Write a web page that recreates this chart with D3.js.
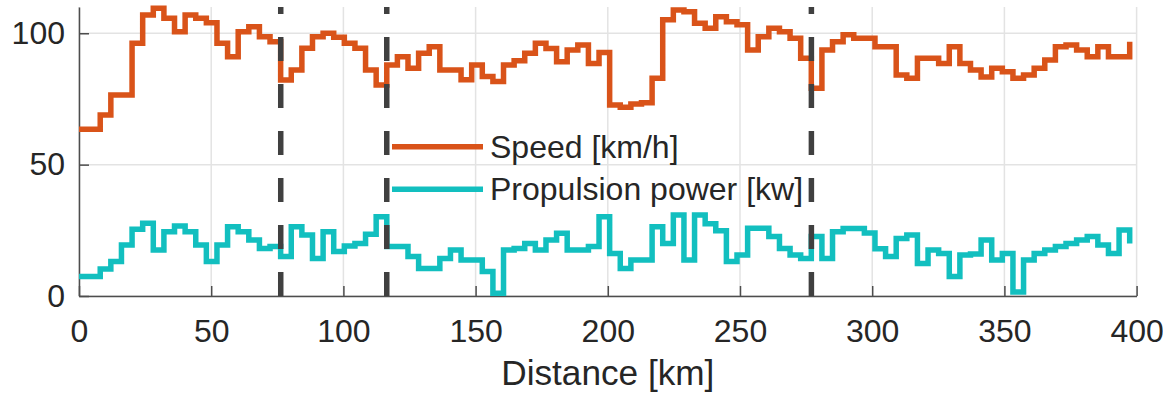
<!DOCTYPE html>
<html>
<head>
<meta charset="utf-8">
<script src="https://cdn.jsdelivr.net/npm/d3@7"></script>
<style>
    body { margin: 0; background: #fff; }
    svg { display: block; font-family: "Liberation Sans", Arial, Helvetica, sans-serif; }
</style>
</head>
<body>
<svg></svg>
<script>
// one value per route segment (segments are ~4 km long)
let speed = [63.5, 63.5, 68.9, 76.5, 76.5, 96.2, 107, 109.5, 105.7, 100.6,
    107, 105.7, 104, 96.2, 91.1, 100.6, 102.5, 98.7, 96.8, 82.2,
    86, 94.3, 98.7, 100, 98.5, 96.2, 94.3, 86, 80.3, 87.9,
    91.1, 86.7, 92.4, 94.9, 86, 86, 82.3, 87.9, 83.5, 81.6,
    87.9, 89.5, 92.4, 96.2, 94.2, 89.2, 93.6, 95.5, 88.5, 92.7,
    72.7, 71.8, 73.1, 73.6, 82.9, 105.1, 108.9, 108.2, 103.8, 101.9,
    106.3, 104.4, 103.2, 93.6, 98.7, 101.9, 100.6, 98.1, 90.5, 79.1,
    93.6, 96.8, 99.4, 98.1, 98.1, 94.9, 94.9, 84.1, 82.9, 90.5,
    90.5, 88.5, 94.9, 88.5, 86, 83.4, 86.7, 85.4, 82.9, 84.1,
    86.7, 89.8, 94.9, 95.5, 93.6, 91.1, 94.9, 91.1, 91.1, 96.8];

let power = [7.4, 7.4, 10.3, 13.1, 19.4, 25.4, 27.7, 17.5, 24.5, 26.6,
    24.5, 19.4, 13.1, 19.4, 26.4, 24.5, 21.3, 18.1, 18.8, 15,
    26.4, 23.2, 14.3, 24.5, 16.9, 19, 20, 23.5, 30.2, 18.8,
    18.8, 15, 10.5, 10.5, 14.3, 17.5, 13.7, 13.7, 9.3, 1,
    17.5, 18.1, 20, 17.5, 21.3, 23.9, 17.5, 17.5, 18.8, 30.2,
    16.2, 10.5, 13.7, 13.7, 26.4, 20, 30.8, 13.7, 30.8, 27.5,
    24.8, 13.1, 15.6, 25.8, 25.8, 22.6, 18.1, 15.6, 14.3, 22.6,
    14.3, 24.5, 25.7, 25.7, 24, 18, 15, 21.9, 23.2, 12.4,
    17.5, 16.2, 7.4, 15.6, 16, 21.3, 13.7, 16.2, 1.5, 13.7,
    16.2, 17.5, 18.8, 20, 21.3, 22.6, 19.4, 16.2, 25.1, 20];

let segmentKm = 4.014;
let stops = [76.3, 116.4, 277.0];
let xTicks = [0, 50, 100, 150, 200, 250, 300, 350, 400];
let yTicks = [0, 50, 100];
let seriesNames = ["Speed [km/h]", "Propulsion power [kw]"];
let seriesColors = ["#d95319", "#12bfbf"];

let width = 1163, height = 398;

let svg = d3.select("svg")
    .attr("width", width)
    .attr("height", height)
    .attr("viewBox", "0 0 " + width + " " + height);

let x = d3.scaleLinear().domain([0, 400]).range([79, 1136.6]);
let y = d3.scaleLinear().domain([0, 110]).range([296, 7]);

let rows = speed.map((s, i) => ({ km: i * segmentKm, speed: s, power: power[i] }));

// grid
let grid = svg.append("g").attr("id", "grid");
grid.selectAll("line.gx")
    .data(xTicks)
    .enter()
    .append("line")
    .attr("class", "gx")
    .attr("x1", d => x(d)).attr("x2", d => x(d))
    .attr("y1", y(0)).attr("y2", y(110))
    .attr("stroke", "#e3e3e3")
    .attr("stroke-width", 1.5);
grid.selectAll("line.gy")
    .data(yTicks)
    .enter()
    .append("line")
    .attr("class", "gy")
    .attr("x1", x(0)).attr("x2", x(400))
    .attr("y1", d => y(d)).attr("y2", d => y(d))
    .attr("stroke", "#e3e3e3")
    .attr("stroke-width", 1.5);

// axes, ticks pointing inward
let xAxis = svg.append("g")
    .attr("transform", "translate(0," + y(0) + ")")
    .call(d3.axisBottom(x).tickValues(xTicks).tickSizeInner(-10).tickSizeOuter(0).tickPadding(23));

let yAxis = svg.append("g")
    .attr("transform", "translate(" + x(0) + ",0)")
    .call(d3.axisLeft(y).tickValues(yTicks).tickSizeInner(-10).tickSizeOuter(0).tickPadding(14));

[xAxis, yAxis].forEach(a => {
    a.attr("font-size", 32).attr("font-family", null);
    a.selectAll("path, line").attr("stroke", "#4d4d4d").attr("stroke-width", 1.5);
    a.selectAll("text").attr("fill", "#262626");
});

svg.append("text")
    .attr("x", (x(0) + x(400)) / 2)
    .attr("y", 385)
    .attr("text-anchor", "middle")
    .attr("font-size", 35.2)
    .attr("fill", "#262626")
    .text("Distance [km]");

// step lines
let keys = ["speed", "power"];
keys.forEach((k, i) => {
    let line = d3.line()
        .curve(d3.curveStepAfter)
        .x(d => x(d.km))
        .y(d => y(d[k]));
    svg.append("path")
        .datum(rows)
        .attr("fill", "none")
        .attr("stroke", seriesColors[i])
        .attr("stroke-width", 5.5)
        .attr("d", line);
});

// stations
svg.append("g")
    .attr("id", "stops")
    .selectAll("line")
    .data(stops)
    .enter()
    .append("line")
    .attr("x1", d => x(d)).attr("x2", d => x(d))
    .attr("y1", y(0)).attr("y2", y(110))
    .attr("stroke", "#404040")
    .attr("stroke-width", 5.5)
    .attr("stroke-dasharray", "24,23");

// legend
let legend = svg.append("g")
    .attr("id", "legend")
    .selectAll("g")
    .data(seriesNames)
    .enter()
    .append("g")
    .attr("transform", (d, i) => "translate(392," + (146.7 + i * 42.6) + ")");

legend.append("line")
    .attr("x1", 0).attr("x2", 91)
    .attr("stroke", (d, i) => seriesColors[i])
    .attr("stroke-width", 5.5);

legend.append("text")
    .attr("x", 98)
    .attr("y", 11)
    .attr("font-size", 32)
    .attr("fill", "#262626")
    .text(d => d);
</script>
</body>
</html>
